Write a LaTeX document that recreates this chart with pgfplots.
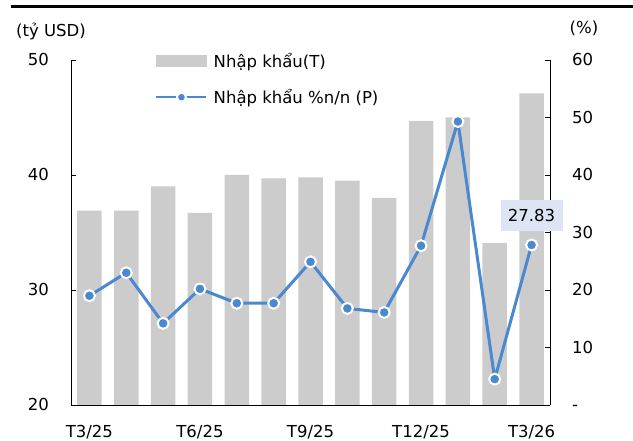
\documentclass[border=0pt]{standalone}
\usepackage{pgfplots}
\pgfplotsset{compat=1.18}
\usepackage{fontspec}
\setmainfont{DejaVu Sans}
\definecolor{barcol}{RGB}{204,204,204}
\definecolor{linecol}{RGB}{74,137,207}
\definecolor{labelcol}{RGB}{221,229,244}
\begin{document}
\begin{tikzpicture}[font=\fontsize{16.5bp}{19.8bp}\selectfont]
\path[use as bounding box] (0bp,0bp) rectangle (633bp,441bp);
\node[anchor=west, inner sep=0pt] at (16bp,409bp) {(tỷ USD)};
\node[inner sep=0pt] at (584bp,413bp) {(\%)};
\begin{axis}[
  at={(71bp,36bp)}, anchor=south west,
  scale only axis, width=479bp, height=345bp,
  xmin=-0.5, xmax=12.5, ymin=20, ymax=50,
  axis x line*=bottom, axis y line*=left,
  ybar, bar width=24.5bp,
  xtick={0,3,6,9,12},
  xticklabels={T3/25,T6/25,T9/25,T12/25,T3/26},
  ytick={20,30,40,50},
  tick align=inside, major tick length=5bp,
  x tick style={draw=none},
  axis line style={line width=0.9bp, black},
  y tick style={line width=0.9bp, black},
  yticklabel style={anchor=east, inner sep=0pt, text height=11.5bp, text depth=0pt, xshift=-22bp},
  xticklabel style={anchor=north, inner sep=0pt, yshift=-20bp},
  /pgf/number format/assume math mode=true,
]
\addplot[fill=barcol, draw=none] coordinates {
(0,36.9) (1,36.9) (2,39.0) (3,36.7) (4,40.0) (5,39.7) (6,39.8)
(7,39.5) (8,38.0) (9,44.7) (10,45.0) (11,34.1) (12,47.1)};
\end{axis}
\begin{axis}[
  at={(71bp,36bp)}, anchor=south west,
  scale only axis, width=479bp, height=345bp,
  xmin=-0.5, xmax=12.5, ymin=0, ymax=60,
  axis y line*=right, axis x line=none,
  ytick={0,10,20,30,40,50,60},
  yticklabels={-,10,20,30,40,50,60},
  tick align=inside, major tick length=5bp,
  axis line style={line width=0.9bp, black},
  y tick style={line width=0.9bp, black},
  yticklabel style={anchor=west, inner sep=0pt, text height=11.5bp, text depth=0pt, xshift=22bp},
  clip=false,
  legend style={draw=none, fill=none, inner xsep=0pt, inner ysep=0pt,
    at={(axis description cs:0.17537,1.0203)}, anchor=north west,
    nodes={inner sep=0pt, text height=14bp, text depth=2bp},
    row sep=20bp,
    /tikz/every odd column/.append style={column sep=6bp}},
  legend cell align=left,
]
\addlegendimage{legend image code/.code={\fill[barcol] (0bp,-5.5bp) rectangle (50bp,5.5bp);}}
\addlegendentry{Nhập khẩu(T)}
\addplot[linecol, line width=3bp, mark=*, mark size=5.5bp,
  mark options={fill=linecol, draw=white, line width=2bp},
  legend image code/.code={
    \draw[linecol, line width=2.5bp] (0bp,0bp) -- (50bp,0bp);
    \draw[fill=linecol, draw=white, line width=2bp] (25bp,0bp) circle (4.5bp);}]
coordinates {
(0,19.0) (1,23.0) (2,14.2) (3,20.2) (4,17.7) (5,17.7) (6,24.9)
(7,16.8) (8,16.1) (9,27.7) (10,49.3) (11,4.5) (12,27.83)};
\addlegendentry{Nhập khẩu \%n/n (P)}
\node[fill=labelcol, minimum width=62bp, minimum height=31bp, inner sep=0pt, text height=12bp, text depth=0pt]
  at ([yshift=29.5bp]axis cs:12,27.83) {27.83};
\end{axis}
\fill[black] (11bp,433bp) rectangle (633bp,436bp);
\end{tikzpicture}
\end{document}
